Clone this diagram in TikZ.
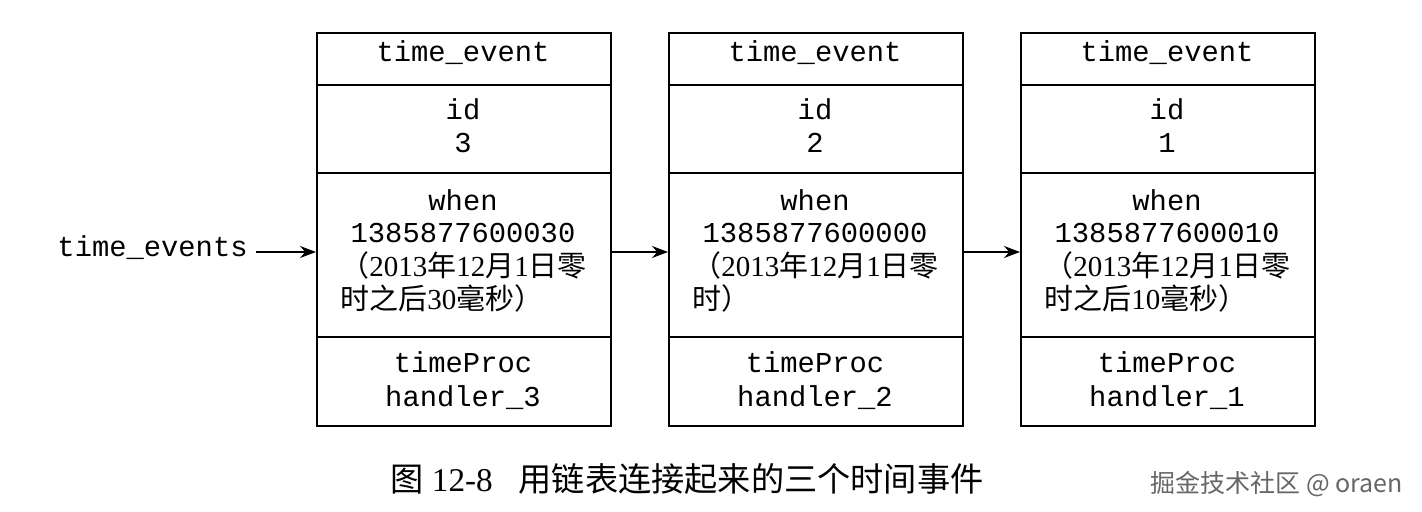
\documentclass[tikz,border=0pt]{standalone}
\usepackage{fontspec}
\setmainfont{Liberation Serif}
\setmonofont{Liberation Mono}
\newfontfamily\cjk{Noto Sans CJK SC}
\newcommand\zh[1]{{\cjk #1}}
\usetikzlibrary{arrows.meta}
\begin{document}
\begin{tikzpicture}[x=0.5pt,y=-0.5pt,
  cell/.style={draw, line width=1.2pt, minimum width=147pt, inner sep=0pt, anchor=north west},
  mono/.style={font=\ttfamily\fontsize{14.4pt}{16pt}\selectfont, inner sep=0pt, anchor=base},
  zhtext/.style={font=\fontsize{14.5pt}{16pt}\selectfont, inner sep=0pt, anchor=base west},
  arr/.style={line width=0.8pt, -{Stealth[length=8pt,width=6pt]}}]
\useasboundingbox (0,0) rectangle (1422,512);
\fill[white] (0,0) rectangle (1422,512);
\foreach \i/\x/\id/\num/\za/\zb in {
  1/316/3/1385877600030/{\zh{（}2013\zh{年}12\zh{月}1\zh{日零}}/{\zh{时之后}30\zh{毫秒）}},
  2/668/2/1385877600000/{\zh{（}2013\zh{年}12\zh{月}1\zh{日零}}/{\zh{时）}},
  3/1020/1/1385877600010/{\zh{（}2013\zh{年}12\zh{月}1\zh{日零}}/{\zh{时之后}10\zh{毫秒）}}}{
  \node[cell, minimum height=26pt] (b\i t) at (\x,32) {};
  \node[cell, minimum height=44pt] (b\i i) at (\x,84) {};
  \node[cell, minimum height=82pt] (b\i w) at (\x,172) {};
  \node[cell, minimum height=44.5pt] (b\i h) at (\x,336) {};
  \node[mono] (b\i tt) at (\x+147,62) {time\_event};
  \node[mono] (b\i ia) at (\x+147,120) {id};
  \node[mono] (b\i ib) at (\x+147,153) {\id};
  \node[mono] (b\i wa) at (\x+147,211) {when};
  \node[mono] (b\i wb) at (\x+147,243) {\num};
  \node[zhtext] (b\i wc) at (\x+24,277) {\za};
  \node[zhtext] (b\i wd) at (\x+24,310) {\zb};
  \node[mono] (b\i ha) at (\x+147,373) {timeProc};
  \node[mono] (b\i hb) at (\x+147,407) {handler\_\id};
}
\node[mono, anchor=mid east, inner xsep=4pt] (te) at (256,252) {time\_events};
\draw[arr] (te.mid east) -- (te.mid east -| b1w.west);
\draw[arr] (te.mid east -| b1w.east) -- (te.mid east -| b2w.west);
\draw[arr] (te.mid east -| b2w.east) -- (te.mid east -| b3w.west);
\node[anchor=base west, inner sep=0pt, font=\fontsize{16.6pt}{16.6pt}\selectfont] (cap) at (390,491)
  {\zh{图} 12-8\hspace{13pt}\zh{用链表连接起来的三个时间事件}};
\node[anchor=base west, inner sep=0pt, font=\cjk\fontsize{12.5pt}{12.5pt}\selectfont, text=black!60] (wm) at (1150,492)
  {掘金技术社区 @ oraen};
\end{tikzpicture}
\end{document}
